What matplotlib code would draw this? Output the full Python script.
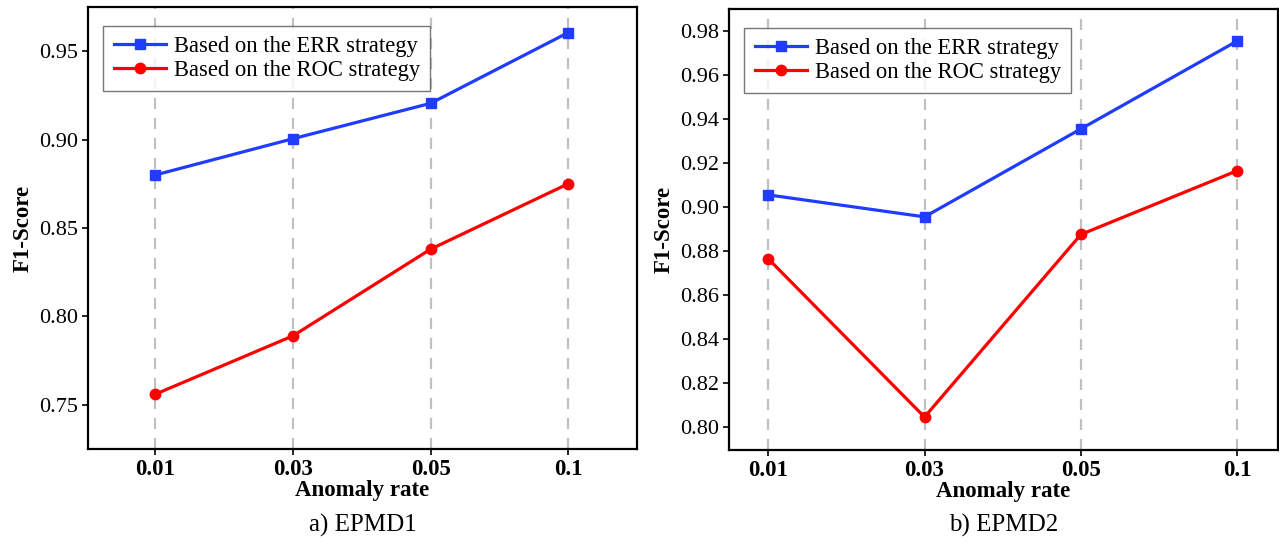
import numpy as np
import matplotlib.pyplot as plt

plt.rcParams['font.family'] = ['Liberation Serif', 'DejaVu Serif']

rates = ["0.01", "0.03", "0.05", "0.1"]

err_1 = [0.880, 0.9005, 0.9205, 0.9605]
roc_1 = [0.756, 0.789, 0.838, 0.875]

err_2 = [0.9055, 0.8955, 0.9355, 0.9755]
roc_2 = [0.8765, 0.8045, 0.8875, 0.9165]

captions = ["a) EPMD1", "b) EPMD2"]

blue = "#1f3cff"
red = "#ff0000"

fig = plt.figure(figsize=(12.79, 5.46), dpi=100)
ax1 = fig.add_axes([0.0688, 0.1777, 0.4292, 0.8095])
ax2 = fig.add_axes([0.570, 0.1758, 0.4292, 0.8077])

x = np.arange(len(rates))

panels = [
    (ax1, err_1, roc_1, (-0.49, 3.5), (0.725, 0.975), np.arange(0.75, 0.951, 0.05)),
    (ax2, err_2, roc_2, (-0.25, 3.26), (0.7895, 0.99), np.arange(0.80, 0.981, 0.02)),
]

for i, (ax, err, roc, xl, yl, yt) in enumerate(panels):
    ax.plot(x, err, color=blue, lw=2.3, marker="s", ms=7.5, label="Based on the ERR strategy")
    ax.plot(x, roc, color=red, lw=2.3, marker="o", ms=7.5, label="Based on the ROC strategy")

    ax.set_xlim(*xl)
    ax.set_ylim(*yl)
    ax.set_xticks(x)
    ax.set_xticklabels(rates, fontsize=16.5, fontweight="bold")
    ax.set_yticks(yt)
    ax.set_yticklabels(["%.2f" % v for v in yt], fontsize=16)

    ax.grid(axis="x", linestyle=(0, (5, 4)), color="#c0c0c0", lw=1.6)
    ax.set_axisbelow(True)

    for s in ax.spines.values():
        s.set_linewidth(1.6)
        s.set_color("black")
    ax.tick_params(axis="both", width=1.2, length=4, pad=3)

    ax.set_xlabel("Anomaly rate", fontsize=16.5, fontweight="bold", labelpad=0)
    ax.set_ylabel("F1-Score", fontsize=16.5, fontweight="bold", labelpad=4)

    leg = ax.legend(loc="upper left", fontsize=16.3, frameon=True, fancybox=False,
                    edgecolor="#555555", handlelength=2.3, handletextpad=0.35,
                    borderpad=0.45, labelspacing=0.15, borderaxespad=0,
                    bbox_to_anchor=(0.028, 0.958))
    leg.get_frame().set_linewidth(1.0)

    ax.text(0.5, -0.172, captions[i], transform=ax.transAxes, ha="center",
            va="center", fontsize=18)

fig.savefig("out.png", dpi=100)
